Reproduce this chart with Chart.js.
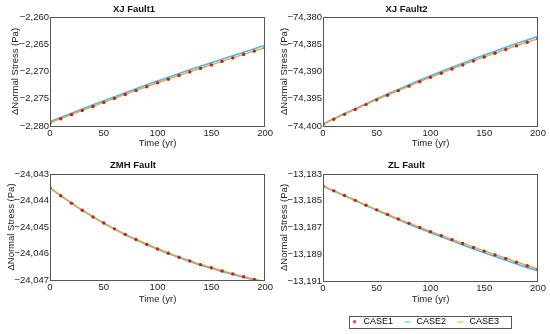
<!DOCTYPE html>
<html>
<head>
<meta charset="utf-8">
<script src="https://cdn.jsdelivr.net/npm/chart.js@4.4.0/dist/chart.umd.min.js"></script>
<style>
  body { margin: 0; background: #fff; }
  #wrap { position: relative; width: 550px; height: 334px; overflow: hidden; }
  canvas { position: absolute; }
  #legendBox { position: absolute; left: 349px; top: 316px; width: 161px; height: 11px; border: 1px solid #555; }
</style>
</head>
<body>
<div id="wrap">
  <canvas id="p1" width="275" height="150" style="left:0;top:0"></canvas>
  <canvas id="p2" width="275" height="150" style="left:275px;top:0"></canvas>
  <canvas id="p3" width="275" height="160" style="left:0;top:150px"></canvas>
  <canvas id="p4" width="275" height="160" style="left:275px;top:150px"></canvas>
  <div id="legendBox"></div>
  <canvas id="lg" width="200" height="40" style="left:340px;top:307px"></canvas>
</div>
<script>
// time axis (yr)
const years = [0, 10, 20, 30, 40, 50, 60, 70, 80, 90, 100, 110, 120, 130, 140, 150, 160, 170, 180, 190, 200];
const xTicks = [0, 50, 100, 150, 200];
const seriesNames = ["CASE1", "CASE2", "CASE3"];
const panelTitles = ["XJ Fault1", "XJ Fault2", "ZMH Fault", "ZL Fault"];

// XJ Fault1
const fault1Case1 = [-2279.45, -2278.68, -2277.92, -2277.16, -2276.41, -2275.67, -2274.94, -2274.21, -2273.50, -2272.79, -2272.08, -2271.41, -2270.74, -2270.08, -2269.43, -2268.79, -2268.15, -2267.52, -2266.89, -2266.26, -2265.63];
const fault1Case2 = [-2279.20, -2278.42, -2277.65, -2276.88, -2276.12, -2275.37, -2274.63, -2273.89, -2273.17, -2272.45, -2271.73, -2271.05, -2270.37, -2269.70, -2269.04, -2268.39, -2267.74, -2267.10, -2266.46, -2265.82, -2265.18];
const fault1Case3 = [-2279.43, -2278.66, -2277.90, -2277.14, -2276.39, -2275.65, -2274.92, -2274.19, -2273.48, -2272.77, -2272.06, -2271.39, -2270.72, -2270.06, -2269.41, -2268.77, -2268.13, -2267.50, -2266.87, -2266.24, -2265.61];
const fault1Ticks = [-2280, -2275, -2270, -2265, -2260];

// XJ Fault2
const fault2Case1 = [-74399.70, -74398.77, -74397.86, -74396.96, -74396.07, -74395.20, -74394.35, -74393.51, -74392.69, -74391.88, -74391.08, -74390.31, -74389.55, -74388.80, -74388.06, -74387.35, -74386.65, -74385.96, -74385.29, -74384.64, -74384.00];
const fault2Case2 = [-74399.60, -74398.65, -74397.72, -74396.81, -74395.90, -74395.01, -74394.14, -74393.29, -74392.45, -74391.62, -74390.80, -74390.02, -74389.24, -74388.47, -74387.71, -74386.99, -74386.27, -74385.56, -74384.87, -74384.21, -74383.55];
const fault2Case3 = [-74399.68, -74398.75, -74397.84, -74396.94, -74396.05, -74395.18, -74394.33, -74393.49, -74392.67, -74391.86, -74391.06, -74390.29, -74389.53, -74388.78, -74388.04, -74387.33, -74386.63, -74385.94, -74385.27, -74384.62, -74383.98];
const fault2Ticks = [-74400, -74395, -74390, -74385, -74380];

// ZMH Fault
const zmhCase1 = [-24043.52, -24043.82, -24044.10, -24044.37, -24044.62, -24044.85, -24045.07, -24045.28, -24045.47, -24045.66, -24045.83, -24045.99, -24046.14, -24046.28, -24046.42, -24046.54, -24046.66, -24046.77, -24046.88, -24046.98, -24047.07];
const zmhCase2 = [-24043.52, -24043.82, -24044.10, -24044.37, -24044.62, -24044.86, -24045.08, -24045.29, -24045.48, -24045.67, -24045.84, -24046.00, -24046.15, -24046.30, -24046.44, -24046.56, -24046.68, -24046.79, -24046.90, -24047.00, -24047.09];
const zmhCase3 = [-24043.52, -24043.82, -24044.10, -24044.37, -24044.61, -24044.85, -24045.07, -24045.28, -24045.47, -24045.65, -24045.82, -24045.98, -24046.13, -24046.27, -24046.41, -24046.53, -24046.65, -24046.76, -24046.87, -24046.97, -24047.06];
const zmhTicks = [-24047, -24046, -24045, -24044, -24043];

// ZL Fault
const zlCase1 = [-13183.90, -13184.26, -13184.61, -13184.97, -13185.33, -13185.68, -13186.02, -13186.36, -13186.69, -13187.00, -13187.31, -13187.61, -13187.91, -13188.20, -13188.49, -13188.77, -13189.05, -13189.32, -13189.59, -13189.86, -13190.13];
const zlCase2 = [-13183.90, -13184.27, -13184.62, -13184.99, -13185.36, -13185.72, -13186.07, -13186.41, -13186.75, -13187.07, -13187.39, -13187.70, -13188.00, -13188.30, -13188.60, -13188.89, -13189.17, -13189.45, -13189.73, -13190.00, -13190.23];
const zlCase3 = [-13183.89, -13184.25, -13184.60, -13184.96, -13185.32, -13185.67, -13186.01, -13186.35, -13186.67, -13186.98, -13187.29, -13187.59, -13187.89, -13188.18, -13188.47, -13188.75, -13189.03, -13189.30, -13189.57, -13189.84, -13190.11];
const zlTicks = [-13191, -13189, -13187, -13185, -13183];

const colors = ["#bf1f2b", "#4db7ea", "#e6a73a"];

Chart.defaults.font.family = "'Liberation Sans', Arial, sans-serif";
Chart.defaults.color = "#222";

// box round the plot area
const frame = {
    id: "frame",
    afterDatasetsDraw(chart) {
        const { ctx, chartArea: a } = chart;
        ctx.save();
        ctx.strokeStyle = "#555";
        ctx.lineWidth = 1;
        ctx.strokeRect(Math.round(a.left) + 0.5, Math.round(a.top) + 0.5,
            Math.round(a.right - a.left) - 1, Math.round(a.bottom - a.top));
        ctx.restore();
    },
};

function fmt(v) {
    const s = Math.abs(v).toLocaleString("en-US");
    return v < 0 ? "\u2212" + s : s;
}

function pairs(values) {
    return years.map((t, i) => ({ x: t, y: values[i] }));
}

function makePanel(id, title, c1, c2, c3, yTicks, g) {
    const datasets = [
        {
            label: seriesNames[0], data: pairs(c1), order: 0,
            showLine: false, pointRadius: 1.7, pointBorderWidth: 0,
            pointBackgroundColor: colors[0],
        },
        {
            label: seriesNames[1], data: pairs(c2), order: 2,
            borderColor: colors[1], borderWidth: 1.6, pointRadius: 0,
        },
        {
            label: seriesNames[2], data: pairs(c3), order: 1,
            borderColor: colors[2], borderWidth: 1.4, pointRadius: 0,
        },
    ];

    new Chart(document.getElementById(id), {
        type: "line",
        data: { datasets },
        options: {
            responsive: false,
            animation: false,
            layout: { padding: { left: 0, right: g.padRight, top: 0, bottom: 0 } },
            plugins: {
                legend: { display: false },
                tooltip: { enabled: false },
                title: {
                    display: true, text: title, color: "#111",
                    font: { size: 9.5, weight: "bold" },
                    padding: g.titlePad,
                },
            },
            scales: {
                x: {
                    type: "linear", min: 0, max: 200,
                    afterBuildTicks: (axis) => { axis.ticks = xTicks.map((v) => ({ value: v })); },
                    afterFit: (axis) => { axis.height = g.xH; },
                    grid: { display: false, drawTicks: false },
                    border: { display: false },
                    ticks: { font: { size: 9.5 }, padding: 2, maxRotation: 0 },
                    title: {
                        display: true, text: "Time (yr)",
                        font: { size: 9.5 }, padding: { top: 0, bottom: g.xTitleBottom },
                    },
                },
                y: {
                    type: "linear", min: yTicks[0], max: yTicks[yTicks.length - 1],
                    afterBuildTicks: (axis) => { axis.ticks = yTicks.map((v) => ({ value: v })); },
                    afterFit: (axis) => { axis.width = g.yW; },
                    grid: { display: false, drawTicks: false },
                    border: { display: false },
                    ticks: { font: { size: 9.5 }, padding: 1, callback: (v) => fmt(v) },
                    title: {
                        display: true, text: "\u0394Normal Stress (Pa)",
                        font: { size: 9.5 }, padding: { top: g.yTitleTop, bottom: 0 },
                    },
                },
            },
        },
        plugins: [frame],
    });
}

makePanel("p1", panelTitles[0], fault1Case1, fault1Case2, fault1Case3, fault1Ticks,
    { yW: 50, xH: 24, padRight: 7, titlePad: { top: 3.3, bottom: 2.3 }, xTitleBottom: 1, yTitleTop: 9.3 });
makePanel("p2", panelTitles[1], fault2Case1, fault2Case2, fault2Case3, fault2Ticks,
    { yW: 48, xH: 24, padRight: 12, titlePad: { top: 3.3, bottom: 2.3 }, xTitleBottom: 1, yTitleTop: 4 });
makePanel("p3", panelTitles[2], zmhCase1, zmhCase2, zmhCase3, zmhTicks,
    { yW: 50, xH: 30, padRight: 9, titlePad: { top: 9.3, bottom: 3.3 }, xTitleBottom: 5.3, yTitleTop: 6 });
makePanel("p4", panelTitles[3], zlCase1, zlCase2, zlCase3, zlTicks,
    { yW: 48, xH: 29, padRight: 12, titlePad: { top: 9.3, bottom: 3.3 }, xTitleBottom: 5.3, yTitleTop: 3.3 });

// legend marks: dot for CASE1, short lines for CASE2 / CASE3
function markImg(kind, color) {
    const c = document.createElement("canvas");
    c.width = 8;
    c.height = 4;
    const g = c.getContext("2d");
    if (kind === "dot") {
        g.fillStyle = color;
        g.beginPath();
        g.arc(4, 2, 1.5, 0, Math.PI * 2);
        g.fill();
    } else {
        g.strokeStyle = color;
        g.lineWidth = 1;
        g.beginPath();
        g.moveTo(1, 2.5);
        g.lineTo(7, 2.5);
        g.stroke();
    }
    return c;
}
const marks = [markImg("dot", colors[0]), markImg("line", colors[1]), markImg("line", colors[2])];

new Chart(document.getElementById("lg"), {
    type: "line",
    data: { datasets: [] },
    options: {
        responsive: false,
        animation: false,
        layout: { padding: 0 },
        scales: { x: { display: false }, y: { display: false } },
        plugins: {
            tooltip: { enabled: false },
            legend: {
                display: true,
                align: "start",
                labels: {
                    usePointStyle: true,
                    padding: 10,
                    font: { size: 9 },
                    color: "#222",
                    generateLabels: () => seriesNames.map((name, i) => ({
                        text: name, pointStyle: marks[i], fillStyle: colors[i],
                        strokeStyle: colors[i], lineWidth: 0, hidden: false, datasetIndex: i,
                    })),
                },
            },
        },
    },
});
</script>
</body>
</html>
